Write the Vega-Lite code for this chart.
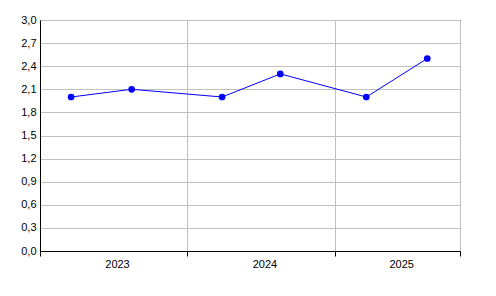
{
  "$schema": "https://vega.github.io/schema/vega-lite/v6.json",
  "autosize": "none",
  "width": 420,
  "height": 231,
  "padding": {"left": 40, "top": 20, "right": 36, "bottom": 45},
  "background": "white",
  "config": {
    "view": {"stroke": "black", "strokeWidth": 1},
    "axis": {
      "labelFont": "Liberation Sans",
      "labelFontSize": 11,
      "labelColor": "black",
      "domainColor": "black",
      "tickColor": "black",
      "gridColor": "#c0c0c0",
      "gridOpacity": 1
    }
  },
  "data": {
    "values": [
      {"date": "2023-03-19", "value": 2.0},
      {"date": "2023-08-16", "value": 2.1},
      {"date": "2024-03-27", "value": 2.0},
      {"date": "2024-08-18", "value": 2.3},
      {"date": "2025-03-19", "value": 2.0},
      {"date": "2025-08-17", "value": 2.5}
    ]
  },
  "encoding": {
    "x": {
      "field": "date",
      "type": "temporal",
      "scale": {"type": "utc", "domain": ["2023-01-01", "2025-11-06"], "nice": false},
      "axis": {
        "title": null,
        "values": [
          {"year": 2023, "month": 1, "date": 1, "utc": true},
          {"year": 2024, "month": 1, "date": 1, "utc": true},
          {"year": 2025, "month": 1, "date": 1, "utc": true},
          {"year": 2025, "month": 11, "date": 6, "utc": true}
        ],
        "labelExpr": "utcmonth(datum.value) == 0 ? utcFormat(datum.value, '%Y') : ''",
        "labelAlign": "center",
        "labelOffset": {"condition": {"test": "utcyear(datum.value) == 2025", "value": 66}, "value": 77},
        "labelPadding": 2,
        "tickSize": 5,
        "grid": true,
        "labelFlush": false,
        "labelOverlap": false
      }
    },
    "y": {
      "field": "value",
      "type": "quantitative",
      "scale": {"domain": [0, 3], "nice": false, "zero": true},
      "axis": {
        "title": null,
        "values": [0, 0.3, 0.6, 0.9, 1.2, 1.5, 1.8, 2.1, 2.4, 2.7, 3.0],
        "labelExpr": "replace(format(datum.value, '.1f'), '.', ',')",
        "ticks": false,
        "labelPadding": 4,
        "grid": true
      }
    }
  },
  "layer": [
    {"mark": {"type": "line", "color": "#0000ff", "strokeWidth": 1}},
    {"mark": {"type": "point", "filled": true, "color": "#0000ff", "size": 45, "opacity": 1}}
  ]
}
